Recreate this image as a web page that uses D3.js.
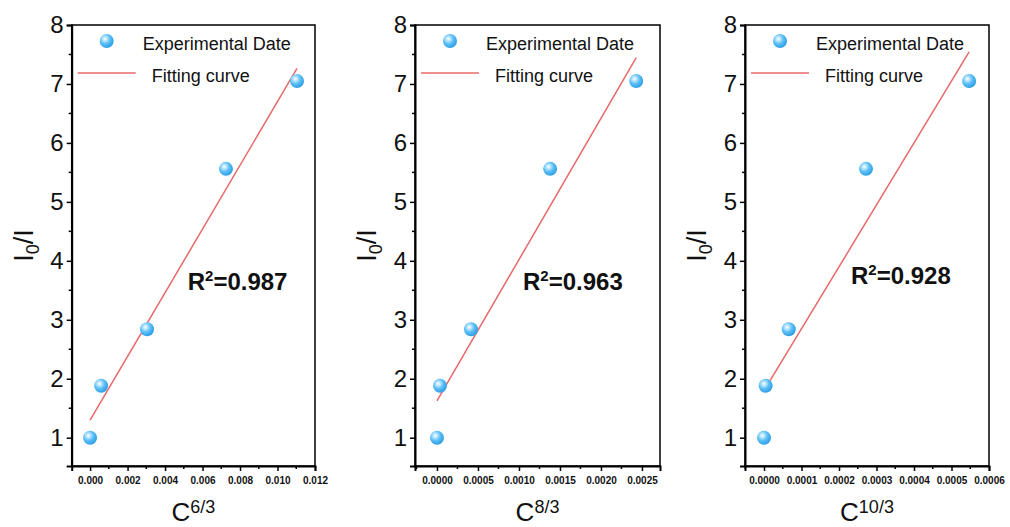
<!DOCTYPE html>
<html>
<head>
<meta charset="utf-8">
<script src="https://cdn.jsdelivr.net/npm/d3@7"></script>
<style>
  body { margin: 0; background: #fff; }
  text { font-family: "Liberation Sans", Arial, sans-serif; }
</style>
</head>
<body>
<div id="chart"></div>
<script>
// données
var yValues = [1, 1.88, 2.84, 5.56, 7.05];          // I0/I
var xC63  = [0, 0.00059, 0.00304, 0.00725, 0.01104];  // C^(6/3)
var xC83  = [0, 0.0000366, 0.000415, 0.00138, 0.00243];
var xC103 = [0, 0.0000043, 0.000066, 0.000272, 0.000547];
var exponents = ["6/3", "8/3", "10/3"];
var r2Labels = ["0.987", "0.963", "0.928"];
var xTicks63  = [0, 0.002, 0.004, 0.006, 0.008, 0.010, 0.012];
var xTicks83  = [0, 0.0005, 0.0010, 0.0015, 0.0020, 0.0025];
var xTicks103 = [0, 0.0001, 0.0002, 0.0003, 0.0004, 0.0005, 0.0006];
var yTicks = [1, 2, 3, 4, 5, 6, 7, 8];
var legendLabels = ["Experimental Date", "Fitting curve"];

var W = 1010, H = 527;
var svg = d3.select("#chart").append("svg").attr("width", W).attr("height", H);

// petite bille bleue
var defs = svg.append("defs");
var grad = defs.append("radialGradient").attr("id", "ball")
  .attr("cx", "38%").attr("cy", "35%").attr("r", "65%");
grad.append("stop").attr("offset", "0%").attr("stop-color", "#ffffff");
grad.append("stop").attr("offset", "18%").attr("stop-color", "#c9ecff");
grad.append("stop").attr("offset", "55%").attr("stop-color", "#5cbff6");
grad.append("stop").attr("offset", "100%").attr("stop-color", "#2f9fe6");

// mise en page de chaque panneau
var panels = [
  {left: 71.7, right: 315, xdom: [-0.00098, 0.012],     x: xC63,  ticks: xTicks63,  fmt: d3.format(".3f"), r2dx: 116, r2y: 290},
  {left: 415,  right: 660, xdom: [-0.000268, 0.00272],  x: xC83,  ticks: xTicks83,  fmt: d3.format(".4f"), r2dx: 108, r2y: 290},
  {left: 745,  right: 989, xdom: [-0.0000507, 0.0006],  x: xC103, ticks: xTicks103, fmt: d3.format(".4f"), r2dx: 106, r2y: 284}
];
var plotTop = 25, plotBottom = 466;
var y = d3.scaleLinear().domain([0.52, 8]).range([plotBottom, plotTop]);

function fit(xs, ys){
  var mx = d3.mean(xs), my = d3.mean(ys), sxy = 0, sxx = 0;
  xs.forEach(function(v, i){ sxy += (v - mx) * (ys[i] - my); sxx += (v - mx) * (v - mx); });
  var b = sxy / sxx;
  return {a: my - b * mx, b: b};
}

panels.forEach(function(p, k){
  var x = d3.scaleLinear().domain(p.xdom).range([p.left, p.right]);
  var g = svg.append("g");

  // cadre
  g.append("rect").attr("x", p.left).attr("y", plotTop)
    .attr("width", p.right - p.left).attr("height", plotBottom - plotTop)
    .attr("fill", "none").attr("stroke", "#000").attr("stroke-width", 1.5);

  // axe y
  var yAxis = d3.axisLeft(y).tickValues(yTicks).tickSize(5).tickPadding(3);
  var ga = g.append("g").attr("transform", "translate(" + p.left + ",0)").call(yAxis);
  ga.select(".domain").attr("stroke-width", 2);
  ga.selectAll(".tick line").attr("stroke-width", 1.5);
  ga.selectAll(".tick text").attr("font-size", 24).attr("fill", "#111")
    .attr("font-family", "'Liberation Sans', Arial, sans-serif");
  var yMinor = d3.range(0.5, 8, 1).filter(function(v){ return v >= 0.52; });
  g.selectAll(".ymin").data(yMinor).enter().append("line")
    .attr("x1", p.left - 3).attr("x2", p.left)
    .attr("y1", function(d){ return y(d); }).attr("y2", function(d){ return y(d); })
    .attr("stroke", "#000").attr("stroke-width", 1.5);

  // axe x
  var xAxis = d3.axisBottom(x).tickValues(p.ticks).tickFormat(p.fmt).tickSize(5).tickPadding(6);
  var gx = g.append("g").attr("transform", "translate(0," + plotBottom + ")").call(xAxis);
  gx.select(".domain").attr("stroke-width", 2);
  gx.selectAll(".tick line").attr("stroke-width", 1.5);
  gx.selectAll(".tick text").attr("font-size", 10).attr("font-weight", "bold").attr("fill", "#111")
    .attr("font-family", "'Liberation Sans', Arial, sans-serif");
  var step = p.ticks[1] - p.ticks[0];
  var xMinor = p.ticks.map(function(t){ return t + step / 2; })
    .concat([p.ticks[0] - step / 2])
    .filter(function(v){ return v > p.xdom[0] && v < p.xdom[1]; });
  g.selectAll(".xmin").data(xMinor).enter().append("line")
    .attr("x1", function(d){ return x(d); }).attr("x2", function(d){ return x(d); })
    .attr("y1", plotBottom).attr("y2", plotBottom + 3)
    .attr("stroke", "#000").attr("stroke-width", 1.5);

  // titres des axes
  var cx = (p.left + p.right) / 2;
  var xt = g.append("text").attr("x", cx).attr("y", 521).attr("text-anchor", "middle")
    .attr("font-size", 26).attr("fill", "#111");
  xt.append("tspan").text("C");
  xt.append("tspan").attr("font-size", 18).attr("dy", -8).text(exponents[k]);

  var yt = g.append("text")
    .attr("transform", "translate(" + (p.left - 39) + "," + (plotTop + plotBottom) / 2 + ") rotate(-90)")
    .attr("text-anchor", "middle").attr("font-size", 27).attr("fill", "#111");
  yt.append("tspan").text("I");
  yt.append("tspan").attr("font-size", 18).attr("dy", 6).text("0");
  yt.append("tspan").attr("dy", -6).text("/I");

  // droite d'ajustement
  var f = fit(p.x, yValues);
  var x0 = d3.min(p.x), x1 = d3.max(p.x);
  g.append("line")
    .attr("x1", x(x0)).attr("y1", y(f.a + f.b * x0))
    .attr("x2", x(x1)).attr("y2", y(f.a + f.b * x1))
    .attr("stroke", "#e8686a").attr("stroke-width", 1.5);

  // points
  g.selectAll(".pt").data(p.x).enter().append("circle")
    .attr("cx", function(d){ return x(d); })
    .attr("cy", function(d, i){ return y(yValues[i]); })
    .attr("r", 7).attr("fill", "url(#ball)");

  // légende
  g.append("circle").attr("cx", p.left + 35).attr("cy", 41).attr("r", 7).attr("fill", "url(#ball)");
  g.append("text").attr("x", p.left + 71).attr("y", 50).attr("font-size", 18).attr("fill", "#111")
    .text(legendLabels[0]);
  g.append("line").attr("x1", p.left + 6).attr("x2", p.left + 64).attr("y1", 73).attr("y2", 73)
    .attr("stroke", "#e8686a").attr("stroke-width", 1.5);
  g.append("text").attr("x", p.left + 80).attr("y", 82).attr("font-size", 18).attr("fill", "#111")
    .text(legendLabels[1]);

  // R²
  var rt = g.append("text").attr("x", p.left + p.r2dx).attr("y", p.r2y)
    .attr("font-size", 24).attr("font-weight", "bold").attr("fill", "#111");
  rt.append("tspan").text("R");
  rt.append("tspan").attr("font-size", 15).attr("dy", -9).text("2");
  rt.append("tspan").attr("dy", 9).text("=" + r2Labels[k]);
});
</script>
</body>
</html>
